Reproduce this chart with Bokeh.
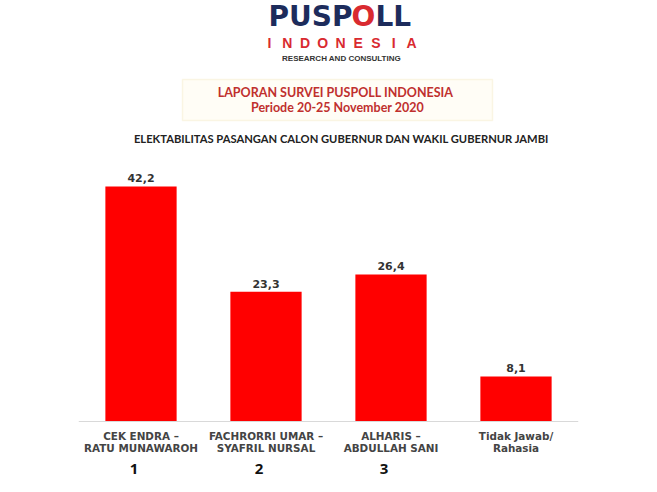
from bokeh.plotting import figure
from bokeh.models import FactorRange, Range1d, Label, BoxAnnotation, Span, ColumnDataSource
from bokeh.core.properties import value
from bokeh.embed import file_html
from bokeh.resources import INLINE

# ---- data ----
categories = ["CEK ENDRA –\nRATU MUNAWAROH", "FACHRORRI UMAR –\nSYAFRIL NURSAL",
              "ALHARIS –\nABDULLAH SANI", "Tidak Jawab/\nRahasia"]
values = [42.2, 23.3, 26.4, 8.1]
numbers = ["1", "2", "3", ""]
title_lines = ["LAPORAN SURVEI PUSPOLL INDONESIA", "Periode 20-25 November 2020"]
subtitle = "ELEKTABILITAS PASANGAN CALON GUBERNUR DAN WAKIL GUBERNUR JAMBI"
labels = [f"{v:.1f}".replace(".", ",") for v in values]

W, H = 641, 476
FL, FR = 78, 578          # frame left/right in pixels
BASE = 421                # pixel row of the zero line
PX = 5.569                # pixels per percentage point

p = figure(x_range=FactorRange(*categories, range_padding=0),
           y_range=Range1d(-(H - BASE) / PX, BASE / PX),
           width=W, height=H, output_backend="svg", toolbar_location=None,
           min_border_left=FL, min_border_right=W - FR, min_border_top=0, min_border_bottom=0,
           x_axis_location=None, y_axis_location=None)
p.outline_line_color = None
p.xgrid.grid_line_color = None
p.ygrid.grid_line_color = None
p.background_fill_color = "white"
p.border_fill_color = "white"


def sx(rx):
    return rx - FL


def yd(ry):
    return (BASE - ry) / PX


# title box (behind texts)
p.add_layout(BoxAnnotation(left=sx(182), right=sx(492), top=yd(79), bottom=yd(120),
                           left_units="screen", right_units="screen",
                           fill_color="#fffdf6", fill_alpha=1,
                           line_color="#f0e2b0", line_width=1.5, level="underlay"))

src = ColumnDataSource(dict(cat=categories, val=values, lab=labels, num=numbers,
                            zero=[0] * len(values)))
p.vbar(x="cat", top="val", width=0.57, source=src, fill_color="#ff0000", line_color=None)
p.add_layout(Span(location=0, dimension="width", line_color="#d9d9d9", line_width=1.2))
p.text(x="cat", y="val", text="lab", source=src, y_offset=-4, text_align="center",
       text_baseline="bottom", text_font=value("DejaVu Sans"), text_font_style="bold",
       text_font_size="11px", text_color="#333333")
p.text(x="cat", y="zero", text="cat", source=src, y_offset=8, text_align="center",
       text_baseline="top", text_font=value("DejaVu Sans"), text_font_style="bold",
       text_font_size="10.4px", text_color="#444444", text_line_height=1.05)
p.text(x="cat", y="zero", text="num", source=src, x_offset=-7, y_offset=47, text_align="center",
       text_baseline="middle", text_font=value("Open Sans"), text_font_style="bold",
       text_font_size="15px", text_color="#111111")


def lab(text, rx, ry, size, color, font="Lato", style="bold", align="center", base="middle"):
    p.add_layout(Label(x=sx(rx), y=yd(ry), x_units="screen", text=text,
                       text_font=font, text_font_style=style, text_font_size=size,
                       text_color=color, text_align=align, text_baseline=base))


# logo
NAVY = "#1d2c5c"
LRED = "#d92a30"
lab("PUSP", 352, 16, "28px", NAVY, font="DejaVu Sans", align="right")
lab("O", 363, 16, "28px", LRED, font="DejaVu Sans", align="center")
lab("LL", 375, 16, "28px", NAVY, font="DejaVu Sans", align="left")
for i, ch in enumerate("INDONESIA"):
    lab(ch, 269 + i * 17.75, 42.5, "14px", LRED, font="Liberation Sans", align="center")
lab("RESEARCH AND CONSULTING", 341, 57.5, "8px", "#333333", font="Liberation Sans")

lab(title_lines[0], 335, 92, "12.5px", "#c0302e")
lab(title_lines[1], 337, 107, "12.5px", "#c0302e")
lab(subtitle, 341, 138, "11.2px", "#222222")

open("out.html", "w").write(file_html(p, INLINE))
